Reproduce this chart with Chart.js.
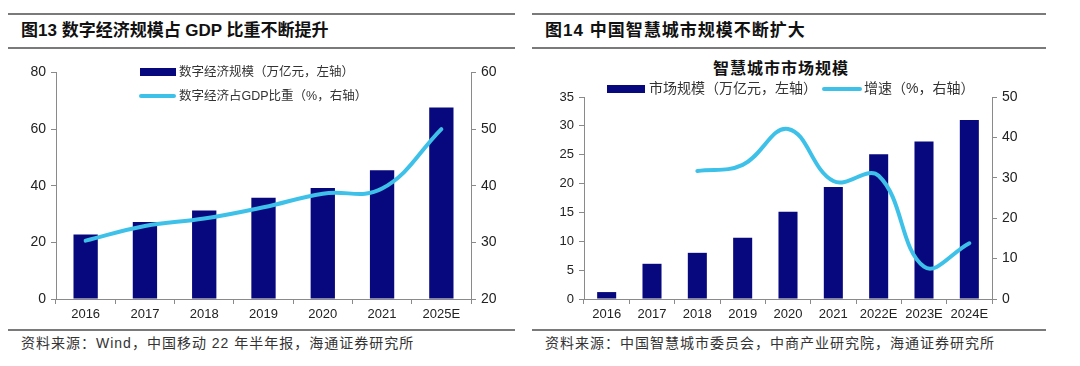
<!DOCTYPE html>
<html>
<head>
<meta charset="utf-8">
<style>
  body { margin: 0; background: #fff; width: 1080px; height: 366px; position: relative; overflow: hidden;
         font-family: "Liberation Sans", "Noto Sans CJK SC", sans-serif; color: #222; }
  .rule { position: absolute; height: 2px; background: #7a7a7a; }
  .title { position: absolute; font-size: 17px; font-weight: bold; line-height: 20px; color: #111; }
  .source { position: absolute; font-size: 14px; line-height: 18px; color: #333; letter-spacing: 1px;
            font-family: "Liberation Sans", "Noto Sans CJK SC", sans-serif; }
  .lg { position: absolute; font-size: 12.5px; line-height: 16px; color: #333; white-space: nowrap;
        font-family: "Liberation Sans", "Noto Sans CJK SC", sans-serif; }
  .sw { position: absolute; }
  canvas { position: absolute; }
  .ctitle { position: absolute; font-size: 16px; font-weight: bold; color: #111; line-height: 20px;
            font-family: "Noto Sans CJK SC", sans-serif; letter-spacing: 1px; }
</style>
</head>
<body>

<!-- left panel -->
<div class="rule" style="left:8px; width:507px; top:13px;"></div>
<div class="title" style="left:21px; top:21px;">图13 数字经济规模占 GDP 比重不断提升</div>
<div class="rule" style="left:8px; width:507px; top:47px;"></div>
<canvas id="chart13" width="525" height="270" style="left:0; top:55px;"></canvas>
<div class="sw" style="left:140px; top:68px; width:36px; height:8px; background:#08087e;"></div>
<div class="lg" style="left:179px; top:64px;">数字经济规模（万亿元，左轴）</div>
<div class="sw" style="left:139px; top:94px; width:37px; height:4px; border-radius:2px; background:#3ec1e8;"></div>
<div class="lg" style="left:179px; top:88px;">数字经济占GDP比重（%，右轴）</div>
<div class="rule" style="left:8px; width:507px; top:329px;"></div>
<div class="source" style="left:21px; top:334px;">资料来源：Wind，中国移动 22 年半年报，海通证券研究所</div>

<!-- right panel -->
<div class="rule" style="left:532px; width:514px; top:13px;"></div>
<div class="title" style="left:545px; top:21px; letter-spacing:1px;">图14 中国智慧城市规模不断扩大</div>
<div class="rule" style="left:532px; width:514px; top:47px;"></div>
<div class="ctitle" style="left:713px; top:57px;">智慧城市市场规模</div>
<canvas id="chart14" width="545" height="270" style="left:530px; top:55px;"></canvas>
<div class="sw" style="left:607px; top:85px; width:38px; height:8px; background:#08087e;"></div>
<div class="lg" style="left:649px; top:80px; font-size:14px;">市场规模（万亿元，左轴）</div>
<div class="sw" style="left:822px; top:87px; width:40px; height:4px; border-radius:2px; background:#3ec1e8;"></div>
<div class="lg" style="left:864px; top:80px; font-size:14px;">增速（%，右轴）</div>
<div class="rule" style="left:532px; width:514px; top:329px;"></div>
<div class="source" style="left:545px; top:334px;">资料来源：中国智慧城市委员会，中商产业研究院，海通证券研究所</div>

<script src="https://cdn.jsdelivr.net/npm/chart.js"></script>
<script>
// Figure 13 data
const years13 = ['2016', '2017', '2018', '2019', '2020', '2021', '2025E'];
const digitalScale = [22.8, 27.2, 31.3, 35.8, 39.2, 45.5, 67.6];   // 万亿元
const digitalShare = [30.3, 32.9, 34.2, 36.2, 38.6, 39.5, 50.0];   // %

// Figure 14 data
const years14 = ['2016', '2017', '2018', '2019', '2020', '2021', '2022E', '2023E', '2024E'];
const cityScale = [1.2, 6.1, 8.0, 10.6, 15.1, 19.4, 25.1, 27.3, 31.0];   // 万亿元
const cityGrowth = [null, null, 31.7, 33.2, 42.1, 29.2, 30.5, 8.0, 13.8]; // %

const navy = '#08087e';
const cyan = '#3ec1e8';
const axisColor = '#8a8a8a';
const tickFont = { family: 'Liberation Sans', size: 13 };
const yFont = { family: 'Liberation Sans', size: 14 };

function axisGrid() {
    return { drawOnChartArea: false, drawTicks: true, tickLength: 5, color: axisColor, lineWidth: 1 };
}

function makeChart(id, labels, bars, line, opts) {
    return new Chart(document.getElementById(id), {
        type: 'bar',
        data: {
            labels: labels,
            datasets: [
                {
                    type: 'line',
                    data: line,
                    yAxisID: 'y1',
                    borderColor: cyan,
                    borderWidth: 4,
                    borderCapStyle: 'round',
                    pointRadius: 0,
                    tension: 0.4,
                    fill: false,
                    order: 0
                },
                {
                    type: 'bar',
                    data: bars,
                    yAxisID: 'y',
                    backgroundColor: navy,
                    categoryPercentage: 1,
                    barPercentage: opts.barPct,
                    order: 1
                }
            ]
        },
        options: {
            responsive: false,
            animation: false,
            layout: { padding: { top: opts.top, left: 0, right: 0, bottom: 0 } },
            plugins: { legend: { display: false }, tooltip: { enabled: false } },
            scales: {
                x: {
                    grid: Object.assign(axisGrid(), { offset: true }),
                    border: { color: axisColor },
                    ticks: { font: tickFont, color: '#222', padding: 3, maxRotation: 0, autoSkip: false },
                    afterFit: s => { s.height = 26; }
                },
                y: {
                    position: 'left',
                    min: opts.yMin, max: opts.yMax,
                    grid: axisGrid(),
                    border: { color: axisColor },
                    ticks: { stepSize: opts.yStep, font: opts.yFont, color: '#222', padding: 5 },
                    afterFit: s => { s.width = opts.leftW; }
                },
                y1: {
                    position: 'right',
                    min: opts.y1Min, max: opts.y1Max,
                    grid: axisGrid(),
                    border: { color: axisColor },
                    ticks: { stepSize: opts.y1Step, font: yFont, color: '#222', padding: 5 },
                    afterFit: s => { s.width = opts.rightW; }
                }
            }
        }
    });
}

makeChart('chart13', years13, digitalScale, digitalShare, {
    top: 17.5, leftW: 56, rightW: 54, barPct: 0.41,
    yMin: 0, yMax: 80, yStep: 20, yFont: yFont,
    y1Min: 20, y1Max: 60, y1Step: 10
});

makeChart('chart14', years14, cityScale, cityGrowth, {
    top: 42, leftW: 54, rightW: 83, barPct: 0.42,
    yMin: 0, yMax: 35, yStep: 5, yFont: tickFont,
    y1Min: 0, y1Max: 50, y1Step: 10
});
</script>
</body>
</html>
